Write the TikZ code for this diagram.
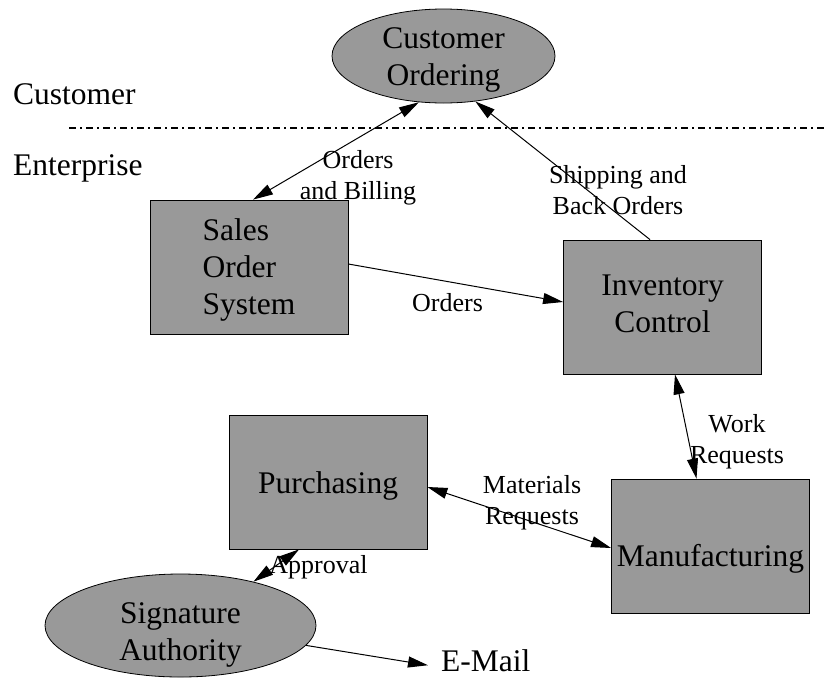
\documentclass[tikz,border=0pt]{standalone}
\usepackage{fontspec}
\setmainfont{Liberation Serif}
\usetikzlibrary{arrows.meta,shapes.geometric}
\definecolor{boxgray}{RGB}{153,153,153}
\newcommand\boxfont{\fontsize{31.5}{37}\selectfont}
\newcommand\tagfont{\fontsize{26}{31}\selectfont}

\begin{document}
\begin{tikzpicture}[x=1pt, y=-1pt,
		box/.style={draw=black, line width=0.8pt, fill=boxgray, minimum width=198pt, minimum height=134pt, inner sep=0pt, font=\boxfont},
		blob/.style={ellipse, draw=black, line width=0.8pt, fill=boxgray, inner xsep=0pt, inner ysep=-30pt, font=\boxfont, align=center},
		tag/.style={font=\tagfont, align=center, inner sep=0pt},
		zone/.style={font=\boxfont, inner sep=0pt},
		flow/.style={line width=1pt, -{Triangle[length=20pt, width=11pt]}},
		both/.style={line width=1pt, {Triangle[length=20pt, width=11pt]}-{Triangle[length=20pt, width=11pt]}},
		divider/.style={line width=1.5pt, dash pattern=on 7pt off 4pt on 2pt off 4pt}]
			%%%%% START %%%%%
			\useasboundingbox (0, 0) rectangle (826, 678);
			
			\node[zone, anchor=base west] (lcust) at (13, 104) {Customer};
			\node[zone, anchor=base west] (lent) at (13, 175) {Enterprise};
			\draw[divider] (69, 128) -- (826, 128);
			
			\node[blob, minimum width=223pt, minimum height=94pt] (cust) at (443.5, 56) {\rule{0pt}{29pt}Customer\\Ordering};
			\node[blob, minimum width=271pt, minimum height=103pt] (sig) at (180.5, 625.5) {\rule{0pt}{39pt}Signature\\Authority};
			
			\node[box, align=left] (sales) at (249, 267) {\rule{0pt}{28pt}Sales\\Order\\System};
			\node[box, align=center] (inv) at (662.5, 307) {Inventory\\Control\rule[-7.5pt]{0pt}{7.5pt}};
			\node[box, text height=40pt, text depth=0pt] (manu) at (710.5, 546) {Manufacturing};
			\node[box, text height=22pt, text depth=0pt] (purch) at (328, 482) {Purchasing};
			
			\node[zone, anchor=base west, inner xsep=13pt] (email) at (428, 671) {E-Mail};
			
			% flows
			\draw[both] ([xshift=4pt]sales.north) -- (cust.242);
			\draw[flow] ([xshift=-12.5pt]inv.north) -- (cust.305);
			\draw[flow] ([yshift=3pt]sales.east) -- ([yshift=5pt]inv.west);
			\draw[both] ([xshift=12.5pt]inv.south) -- ([xshift=-14pt]manu.north);
			\draw[both] ([yshift=-5pt]purch.east) -- ([yshift=-2pt]manu.west);
			\draw[both] ([xshift=-29pt]purch.south) -- (sig.31.5);
			\draw[flow] (sig.351.7) -- ([yshift=-5pt]email.west);
			
			% labels
			\node[tag] (lblbill) at (358, 177.5) {Orders\\and Billing};
			\node[tag] (lblship) at (618, 190) {Shipping and\\Back Orders};
			\node[tag, anchor=base] (lblord) at (447.5, 311) {Orders};
			\node[tag] (lblwork) at (737, 441.5) {Work\\Requests};
			\node[tag] (lblmat) at (532, 503) {Materials\\Requests};
			\node[tag, anchor=base] (lblappr) at (318.5, 573) {Approval};
			%%%%% END %%%%%
\end{tikzpicture}
\end{document}
